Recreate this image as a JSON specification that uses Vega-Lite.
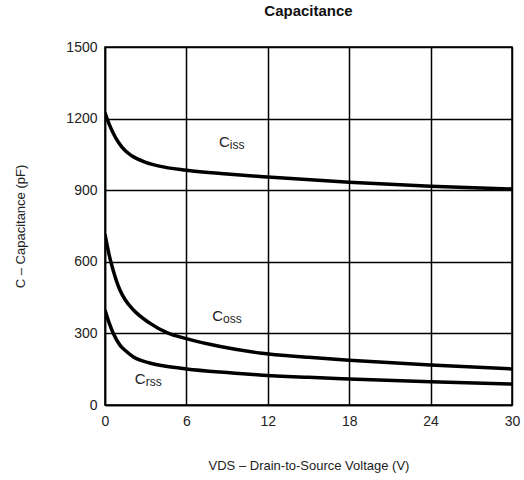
{
  "$schema": "https://vega.github.io/schema/vega-lite/v6.json",
  "autosize": "none",
  "width": 407,
  "height": 358,
  "padding": {"left": 105, "top": 47, "right": 12, "bottom": 75},
  "background": "white",
  "config": {
    "font": "Liberation Sans",
    "view": {"stroke": "black", "strokeWidth": 1.5},
    "axis": {
      "grid": true, "gridColor": "black", "gridWidth": 1.5, "gridOpacity": 1,
      "domainColor": "black", "domainWidth": 1.5, "ticks": false,
      "labelFontSize": 14, "labelColor": "#222", "titleFontSize": 13,
      "titleFontWeight": "normal", "titleColor": "#222", "labelFont": "Liberation Sans", "titleFont": "Liberation Sans",
      "labelFlush": false, "labelOverlap": false, "format": "d"
    }
  },
  "title": {"text": "Capacitance", "fontSize": 15, "fontWeight": "bold", "font": "Liberation Sans", "offset": 21, "color": "#111"},
  "datasets": {
    "curves": [
      {"v": 0, "c": 1225, "s": "Ciss"}, {"v": 0.3, "c": 1178, "s": "Ciss"}, {"v": 0.6, "c": 1140, "s": "Ciss"},
      {"v": 1, "c": 1100, "s": "Ciss"}, {"v": 1.5, "c": 1065, "s": "Ciss"}, {"v": 2, "c": 1043, "s": "Ciss"},
      {"v": 3, "c": 1017, "s": "Ciss"}, {"v": 4, "c": 1001, "s": "Ciss"}, {"v": 6, "c": 984, "s": "Ciss"},
      {"v": 9, "c": 968, "s": "Ciss"}, {"v": 12, "c": 955, "s": "Ciss"}, {"v": 18, "c": 933, "s": "Ciss"},
      {"v": 24, "c": 917, "s": "Ciss"}, {"v": 30, "c": 905, "s": "Ciss"},
      {"v": 0, "c": 715, "s": "Coss"}, {"v": 0.3, "c": 630, "s": "Coss"}, {"v": 0.6, "c": 565, "s": "Coss"},
      {"v": 1.1, "c": 482, "s": "Coss"}, {"v": 1.5, "c": 440, "s": "Coss"}, {"v": 2.1, "c": 398, "s": "Coss"},
      {"v": 3.3, "c": 343, "s": "Coss"}, {"v": 4.6, "c": 302, "s": "Coss"}, {"v": 6, "c": 278, "s": "Coss"},
      {"v": 8.5, "c": 245, "s": "Coss"}, {"v": 11.4, "c": 218, "s": "Coss"}, {"v": 15, "c": 200, "s": "Coss"},
      {"v": 18, "c": 188, "s": "Coss"}, {"v": 24, "c": 168, "s": "Coss"}, {"v": 30, "c": 151, "s": "Coss"},
      {"v": 0, "c": 398, "s": "Crss"}, {"v": 0.3, "c": 345, "s": "Crss"}, {"v": 0.6, "c": 302, "s": "Crss"},
      {"v": 1.1, "c": 251, "s": "Crss"}, {"v": 1.5, "c": 228, "s": "Crss"}, {"v": 2.1, "c": 201, "s": "Crss"},
      {"v": 3.3, "c": 176, "s": "Crss"}, {"v": 4.5, "c": 162, "s": "Crss"}, {"v": 6, "c": 151, "s": "Crss"},
      {"v": 9, "c": 136, "s": "Crss"}, {"v": 11.4, "c": 126, "s": "Crss"}, {"v": 15, "c": 116, "s": "Crss"},
      {"v": 18, "c": 109, "s": "Crss"}, {"v": 24, "c": 97, "s": "Crss"}, {"v": 30, "c": 88, "s": "Crss"}
    ],
    "labels": [
      {"v": 9.2, "c": 1100, "main": "C", "sub": "iss"},
      {"v": 8.7, "c": 372, "main": "C", "sub": "oss"},
      {"v": 3.0, "c": 108, "main": "C", "sub": "rss"}
    ]
  },
  "layer": [
    {
      "data": {"name": "curves"},
      "mark": {"type": "line", "color": "black", "strokeWidth": 3.5, "interpolate": "monotone", "clip": true},
      "encoding": {
        "x": {"field": "v", "type": "quantitative",
              "scale": {"domain": [0, 30], "nice": false},
              "axis": {"values": [0, 6, 12, 18, 24, 30], "labelPadding": 9, "titlePadding": 31,
                       "title": "VDS  –  Drain-to-Source Voltage (V)"}},
        "y": {"field": "c", "type": "quantitative",
              "scale": {"domain": [0, 1500], "nice": false},
              "axis": {"values": [0, 300, 600, 900, 1200, 1500], "labelPadding": 8, "titlePadding": 38,
                       "title": "C  –  Capacitance (pF)"}},
        "detail": {"field": "s"}
      }
    },
    {
      "data": {"name": "labels"},
      "mark": {"type": "text", "align": "right", "baseline": "middle", "fontSize": 15, "color": "#222", "font": "Liberation Sans"},
      "encoding": {
        "x": {"field": "v", "type": "quantitative"},
        "y": {"field": "c", "type": "quantitative"},
        "text": {"field": "main"}
      }
    },
    {
      "data": {"name": "labels"},
      "mark": {"type": "text", "align": "left", "baseline": "middle", "fontSize": 12, "color": "#222", "font": "Liberation Sans", "dy": 3},
      "encoding": {
        "x": {"field": "v", "type": "quantitative"},
        "y": {"field": "c", "type": "quantitative"},
        "text": {"field": "sub"}
      }
    }
  ]
}
